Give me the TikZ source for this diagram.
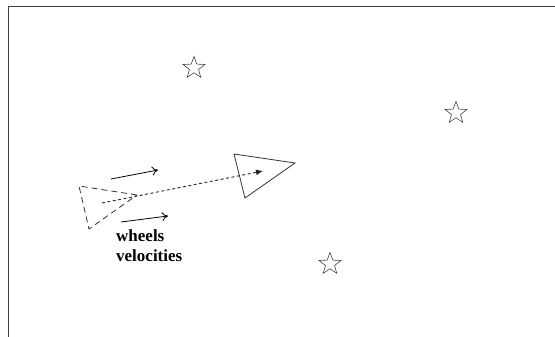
\documentclass[tikz,border=0pt]{standalone}
\usepackage{fontspec}
\setmainfont{Liberation Serif}
\usetikzlibrary{arrows.meta,shapes.geometric}
\tikzset{
  frame/.style={draw=black!75, line width=1pt},
  robot/.style={draw=black!80, line width=0.8pt},
  ghost/.style={draw=black!80, line width=0.8pt, dash pattern=on 6pt off 4pt},
  path line/.style={draw=black!85, line width=0.9pt, dash pattern=on 3pt off 2.5pt, -{Latex[length=7pt,width=6pt]}},
  vel/.style={draw=black, line width=0.8pt, -{To[length=6pt,width=9pt]}},
  landmark/.style={star, star points=5, star point ratio=2.4, draw=black!75, line width=0.6pt, minimum size=23pt, inner sep=0pt},
  caption/.style={font=\fontsize{17}{20}\selectfont\bfseries, align=left, anchor=north west, inner sep=0pt}
}
\begin{document}
\begin{tikzpicture}[x=1pt,y=-1pt]
\useasboundingbox (0,0) rectangle (555,337);
% frame
\coordinate (fTR) at (556,7);
\coordinate (fTL) at (8,7);
\coordinate (fBL) at (8,338);
\draw[frame] (fTR) -- (fTL) -- (fBL);
% landmarks
\node[landmark] (s1) at (194,68) {};
\node[landmark] (s2) at (456,113) {};
\node[landmark] (s3) at (330,264) {};
% previous pose (dashed)
\coordinate (g1) at (79,186);
\coordinate (g2) at (137,195);
\coordinate (g3) at (89,229);
\draw[ghost] (g2) -- (g1) -- (g3) -- (g2);
% current pose
\coordinate (r1) at (234,154);
\coordinate (r2) at (295,163);
\coordinate (r3) at (245,198);
\draw[robot] (r1) -- (r2) -- (r3) -- cycle;
% motion
\coordinate (m0) at (102,203);
\coordinate (m1) at (263,171);
\draw[path line] (m0) -- (m1);
% wheel velocities
\coordinate (v1a) at (111,179);
\coordinate (v1b) at (158,170);
\coordinate (v2a) at (121,222);
\coordinate (v2b) at (168,216);
\draw[vel] (v1a) -- (v1b);
\draw[vel] (v2a) -- (v2b);
\node[caption] (lbl) at (116,230) {wheels\\velocities};
\end{tikzpicture}
\end{document}
